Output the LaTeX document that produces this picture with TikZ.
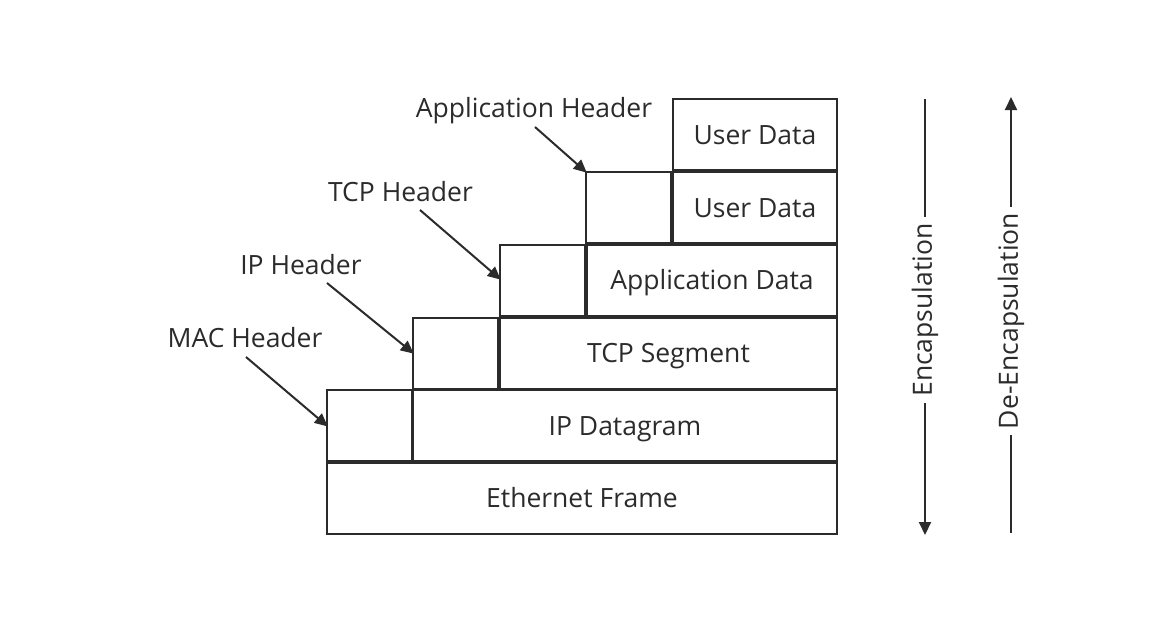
\documentclass[tikz,border=0pt]{standalone}
\usepackage{fontspec}
\setmainfont{Open Sans}
\usetikzlibrary{arrows.meta}
\definecolor{ink}{HTML}{2B2B2B}
\begin{document}
\begin{tikzpicture}[x=1pt,y=-1pt,
  box/.style={draw=ink, line width=2pt, rectangle, inner sep=0pt, outer sep=0pt, minimum height=71pt, text=ink, font=\fontsize{26.5}{30}\selectfont, text height=19pt, text depth=0pt},
  lbl/.style={text=ink, inner sep=0pt, font=\fontsize{26.5}{30}\selectfont, text height=19pt, text depth=0pt},
  vlbl/.style={text=ink, inner sep=0pt, inner xsep=6pt, rotate=90, font=\fontsize{26.5}{30}\selectfont},
  arr/.style={draw=ink, line width=2pt, -{Triangle[length=13pt,width=12pt]}, shorten >=-1pt}]
\useasboundingbox (0,0) rectangle (1173,638);
% rows
\node[box, minimum width=164pt] (ud1) at (755,134.5) {User Data};
\node[box, minimum width=85pt] (hdA) at (628.5,207.5) {};
\node[box, minimum width=164pt] (ud2) at (755,207.5) {User Data};
\node[box, minimum width=85pt] (hdT) at (542.5,280) {};
\node[box, minimum width=250pt] (appd) at (712,280) {Application Data};
\node[box, minimum width=85pt] (hdI) at (455.5,353) {};
\node[box, minimum width=337pt] (tcps) at (668.5,353) {TCP Segment};
\node[box, minimum width=85pt] (hdM) at (369.5,425.8) {};
\node[box, minimum width=424pt] (ipd) at (625,425.8) {IP Datagram};
\node[box, minimum width=510pt] (eth) at (582,498.4) {Ethernet Frame};
% labels
\node[lbl] (lA) at (534,107.5) {Application Header};
\node[lbl] (lT) at (400.5,192) {TCP Header};
\node[lbl] (lI) at (301,264.5) {IP Header};
\node[lbl] (lM) at (245,337.5) {MAC Header};
\coordinate (sA) at (535,127);
\coordinate (sT) at (420,210);
\coordinate (sI) at (327,283);
\coordinate (sM) at (246,357);
\draw[arr] (sA) -- (hdA.north west);
\draw[arr] (sT) -- ([yshift=1pt]hdT.west);
\draw[arr] (sI) -- (hdI.west);
\draw[arr] (sM) -- (hdM.west);
% side arrows
\coordinate (eTop) at (925,99);
\coordinate (eBot) at (925,534);
\node[vlbl] (enc) at (925,310) {Encapsulation};
\draw[draw=ink, line width=2pt] (eTop) -- (enc.east);
\draw[arr] (enc.west) -- (eBot);
\coordinate (dTop) at (1011,98);
\coordinate (dBot) at (1011,533);
\node[vlbl] (denc) at (1011,321) {De-Encapsulation};
\draw[draw=ink, line width=2pt] (dBot) -- (denc.west);
\draw[arr] (denc.east) -- (dTop);
\end{tikzpicture}
\end{document}
